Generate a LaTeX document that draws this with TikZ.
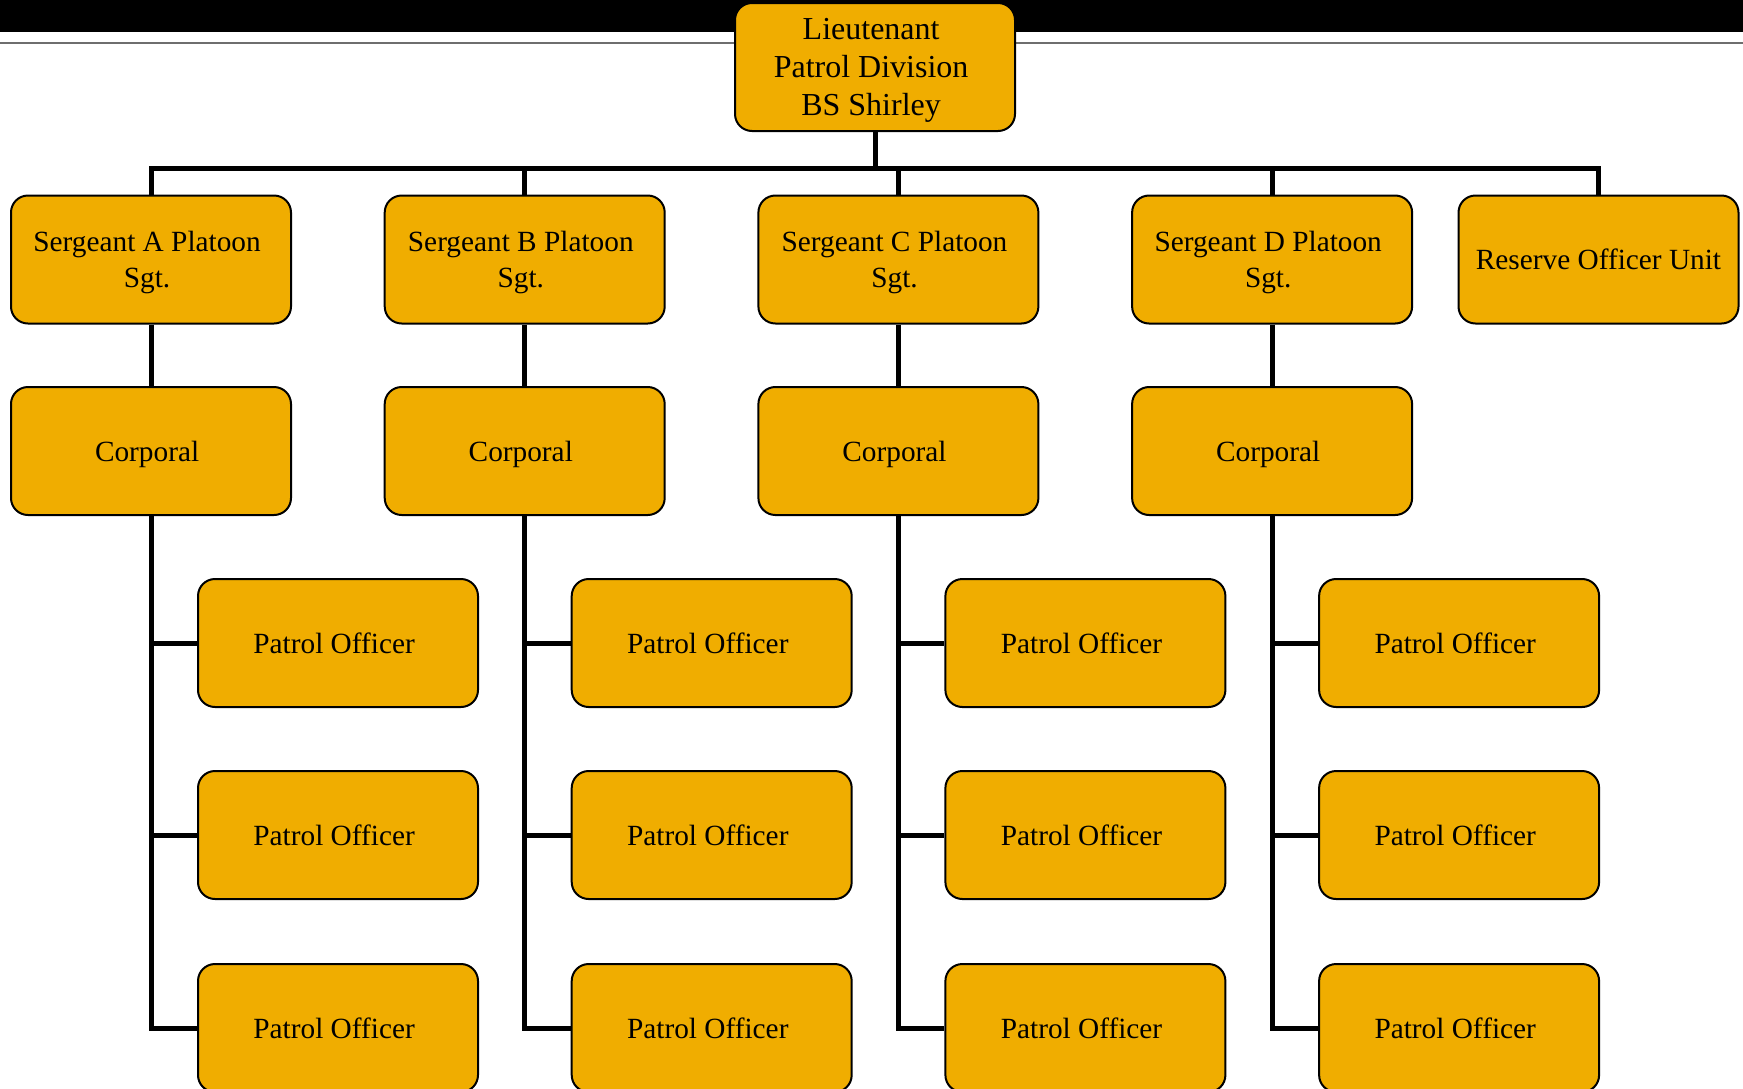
\documentclass[tikz,border=0pt]{standalone}
\usepackage{fontspec}
\setmainfont{Liberation Serif}
\usepackage{tikz}
\usetikzlibrary{positioning}
\definecolor{rankgold}{HTML}{F0AD00}
\definecolor{rulegray}{HTML}{6E6E6E}

\begin{document}
\begin{tikzpicture}[x=0.5pt,y=-0.5pt,
        rankbox/.style={draw=black,line width=1pt,fill=rankgold,rounded corners=8.5pt,
            minimum width=140pt,minimum height=64pt,inner sep=0pt,align=center,
            text depth=-1pt,font=\fontsize{14.65}{17.8}\selectfont},
        rank/.style={rankbox,execute at begin node={\hspace*{-3.9pt}}},
        link/.style={draw=black,line width=2.5pt}]
        \useasboundingbox (0,0) rectangle (1743,1088);
        % title band
        \fill[black] (0,0) rectangle (1743,32);
        \draw[rulegray,line width=1pt] (0,42.5) -- (1743,42.5);
        \node[rank,font=\fontsize{16}{19}\selectfont] (lt) at (875,67)
            {Lieutenant\\Patrol Division\\BS Shirley};
        \node[rankbox] (res) at (1598.5,259.5) {Reserve Officer Unit};
        % platoons
        \foreach \sq [count=\i from 0] in {A,B,C,D} {
            \node[rank] (sgt\sq) at ({151+373.7*\i},259.5) {Sergeant \sq{} Platoon\\Sgt.};
            \node[rank] (cpl\sq) at ({151+373.7*\i},451) {Corporal};
            \foreach \r [count=\k] in {643,835,1028}
                \node[rank] (ptl\sq\k) at ({338+373.7*\i},\r) {Patrol Officer};
            \draw[link] (sgt\sq.south) -- (cpl\sq.north);
            \draw[link] (cpl\sq.south) |- (ptl\sq3.west);
            \draw[link] (cpl\sq.south |- ptl\sq1.west) -- (ptl\sq1.west);
            \draw[link] (cpl\sq.south |- ptl\sq2.west) -- (ptl\sq2.west);
        }
        \draw[link] (lt.south) -- ++(0,36) coordinate (hub);
        \draw[link] (sgtA.north) |- (hub) -| (res.north);
        \draw[link] (sgtB.north) -- (sgtB.north |- hub);
        \draw[link] (sgtC.north) -- (sgtC.north |- hub);
        \draw[link] (sgtD.north) -- (sgtD.north |- hub);
        \end{tikzpicture}
\end{document}
